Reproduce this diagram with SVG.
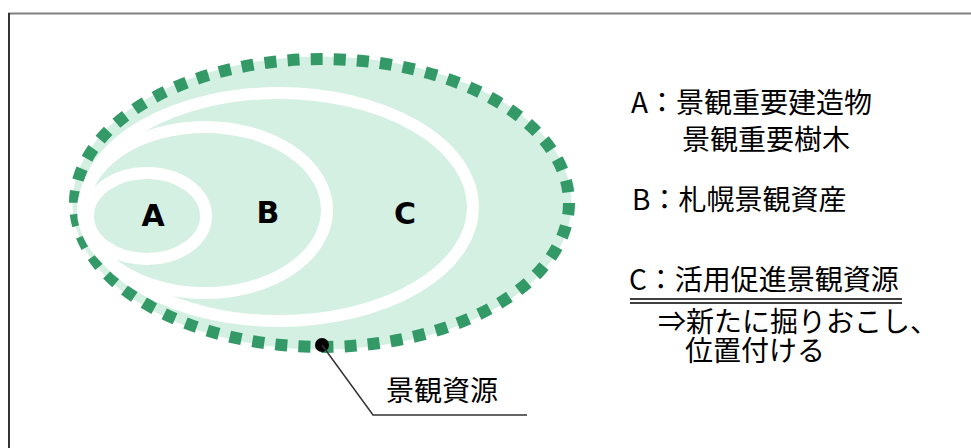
<svg xmlns="http://www.w3.org/2000/svg" width="971" height="448" viewBox="0 0 971 448">
<style>
.band{fill:#d4f0e2;stroke:#d4f0e2;stroke-width:5}
.dash{fill:none;stroke:#339966;stroke-width:12;stroke-dasharray:12 11.14}
.ring{fill:#d4f0e2;stroke:#ffffff;stroke-width:12}
.big{font-family:"DejaVu Sans",sans-serif;font-weight:bold;font-size:30px;fill:#000;text-anchor:middle}
.jp{font-family:"Noto Sans CJK JP","Noto Sans",sans-serif;font-size:28px;fill:#000}
.lead{fill:none;stroke:#333;stroke-width:1.5}
</style>
<rect x="0" y="0" width="971" height="448" fill="#fff"/>
<path d="M8 13.5H971" stroke="#808080" stroke-width="2" fill="none"/>
<path d="M9 13V448" stroke="#333" stroke-width="2" fill="none"/>
<g id="outer">
<ellipse class="band" cx="322" cy="203" rx="247" ry="144"/>
<ellipse class="dash" cx="322" cy="203" rx="247" ry="144"/>
</g>
<g id="C">
<ellipse class="ring" cx="279" cy="207" rx="194" ry="114"/>
<text class="big" x="405" y="224">C</text>
</g>
<g id="B">
<ellipse class="ring" cx="205" cy="210" rx="122" ry="83"/>
<text class="big" x="268" y="223">B</text>
</g>
<g id="A">
<ellipse class="ring" cx="147" cy="216" rx="59" ry="43"/>
<text class="big" x="153" y="226">A</text>
</g>
<g id="connectors">
<circle cx="322" cy="345" r="7" fill="#000"/>
<path class="lead" d="M322 345L373 415H527"/>
</g>
<g id="label-resource">
<text class="jp" x="386" y="401">景観資源</text>
</g>
<g id="legend">
<text class="jp" x="631" y="113">A：景観重要建造物</text>
<text class="jp" x="682" y="150">景観重要樹木</text>
<text class="jp" x="632" y="210">B：札幌景観資産</text>
<text class="jp" x="629" y="290">C：活用促進景観資源</text>
<path d="M630 299H902M630 303H902" stroke="#000" stroke-width="1.5" fill="none"/>
<text class="jp"><tspan x="658" y="332">⇒新たに掘りおこし、</tspan><tspan x="685" y="361">位置付ける</tspan></text>
</g>
</svg>
